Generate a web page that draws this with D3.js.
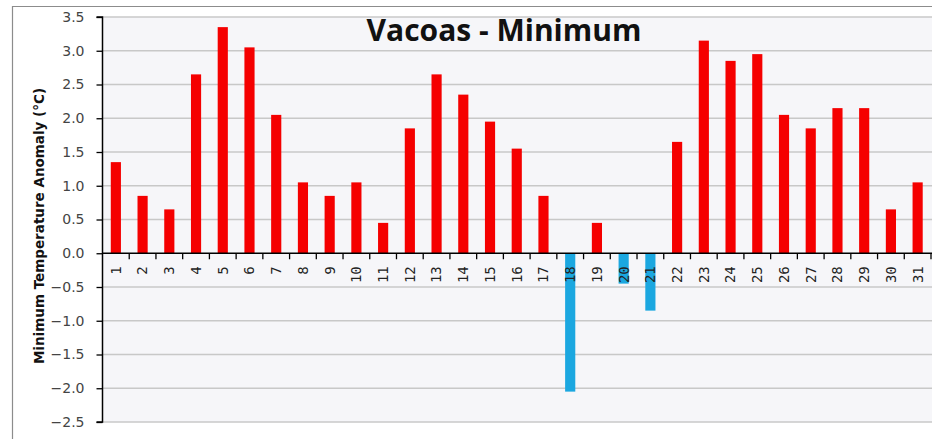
<!DOCTYPE html>
<html>
<head>
<meta charset="utf-8"/>
<title>Vacoas - Minimum</title>
<script src="https://cdn.jsdelivr.net/npm/d3@7"></script>
<style>
  body { margin: 0; background: #fff; }
  svg text { font-family: "DejaVu Sans", Verdana, sans-serif; }
</style>
</head>
<body>
<div id="chart"></div>
<script>
// day of month and minimum temperature anomaly (°C)
var days = d3.range(1, 32).map(String);
var anomalies = [1.35, 0.85, 0.65, 2.65, 3.35, 3.05, 2.05, 1.05, 0.85, 1.05,
                 0.45, 1.85, 2.65, 2.35, 1.95, 1.55, 0.85, -2.05, 0.45, -0.45,
                 -0.85, 1.65, 3.15, 2.85, 2.95, 2.05, 1.85, 2.15, 2.15, 0.65, 1.05];
var yTicks = [3.5, 3.0, 2.5, 2.0, 1.5, 1.0, 0.5, 0.0, -0.5, -1.0, -1.5, -2.0, -2.5];
var title = "Vacoas - Minimum";
var yTitle = "Minimum Temperature Anomaly (°C)";

var W = 932, H = 439;
var plotL = 102.5, plotR = 931, plotT = 17, plotB = 422;

var svg = d3.select("#chart").append("svg")
  .attr("width", W).attr("height", H);

// outer frame (only left and top edges are visible in the crop)
svg.append("path")
  .attr("d", "M12.5," + H + "V6.5H" + W)
  .attr("fill", "none").attr("stroke", "#8c8c8c").attr("stroke-width", 1.2);

var x = d3.scaleBand().domain(days).range([plotL, plotR])
  .paddingInner(0.62).paddingOuter(0.31);
var y = d3.scaleLinear().domain([-2.5, 3.5]).range([plotB, plotT]);

// plot background
svg.append("rect")
  .attr("x", plotL).attr("y", plotT)
  .attr("width", W - plotL).attr("height", plotB - plotT)
  .attr("fill", "#f6f6f9");

// gridlines
svg.append("g").selectAll("line").data(yTicks.filter(function(d) { return d !== 0; }))
  .join("line")
  .attr("x1", plotL).attr("x2", W)
  .attr("y1", function(d) { return y(d); }).attr("y2", function(d) { return y(d); })
  .attr("stroke", "#c8c8c8").attr("stroke-width", 1.3);

// bars
svg.append("g").selectAll("rect").data(anomalies)
  .join("rect")
  .attr("x", function(d, i) { return x(days[i]); })
  .attr("width", x.bandwidth())
  .attr("y", function(d) { return y(Math.max(0, d)); })
  .attr("height", function(d) { return Math.abs(y(d) - y(0)); })
  .attr("fill", function(d) { return d < 0 ? "#1ba7e0" : "#f50000"; });

// y axis
var yAxis = d3.axisLeft(y).tickValues(yTicks).tickSize(6).tickPadding(12)
  .tickFormat(d3.format(".1f"));
var gy = svg.append("g").attr("transform", "translate(" + plotL + ",0)").call(yAxis);
gy.select(".domain").attr("stroke", "#000").attr("stroke-width", 1.5)
  .attr("d", "M-6," + plotT + "H0V" + plotB + "H-6");
gy.selectAll(".tick line").attr("stroke", "#000").attr("stroke-width", 1.3);
gy.selectAll(".tick text")
  .attr("fill", "#444")
  .style("font-family", "'DejaVu Sans', Verdana, sans-serif")
  .style("font-size", "14px");

// x axis at zero
var y0 = y(0);
svg.append("line")
  .attr("x1", plotL).attr("x2", W).attr("y1", y0).attr("y2", y0)
  .attr("stroke", "#000").attr("stroke-width", 1.5);

var step = x.step();
svg.append("g").selectAll("line").data(days)
  .join("line")
  .attr("x1", function(d) { return x(d) + x.bandwidth() / 2 + step / 2; })
  .attr("x2", function(d) { return x(d) + x.bandwidth() / 2 + step / 2; })
  .attr("y1", y0).attr("y2", y0 + 6)
  .attr("stroke", "#000").attr("stroke-width", 1.3);

svg.append("g").selectAll("text").data(days)
  .join("text")
  .attr("transform", function(d) {
    return "translate(" + (x(d) + x.bandwidth() / 2) + "," + (y0 + 13) + ") rotate(-90)";
  })
  .attr("text-anchor", "end")
  .attr("dy", "0.35em")
  .attr("fill", "#222")
  .style("font-family", "'DejaVu Sans Mono', monospace")
  .style("font-size", "14px")
  .text(function(d) { return d; });

// titles
svg.append("text")
  .attr("x", 504).attr("y", 41)
  .attr("text-anchor", "middle")
  .attr("fill", "#111")
  .style("font-family", "'Open Sans', sans-serif")
  .style("font-weight", "bold")
  .style("font-size", "30px")
  .text(title);

svg.append("text")
  .attr("transform", "translate(44,226) rotate(-90)")
  .attr("text-anchor", "middle")
  .attr("fill", "#111")
  .style("font-weight", "bold")
  .style("font-size", "13.5px")
  .text(yTitle);
</script>
</body>
</html>
